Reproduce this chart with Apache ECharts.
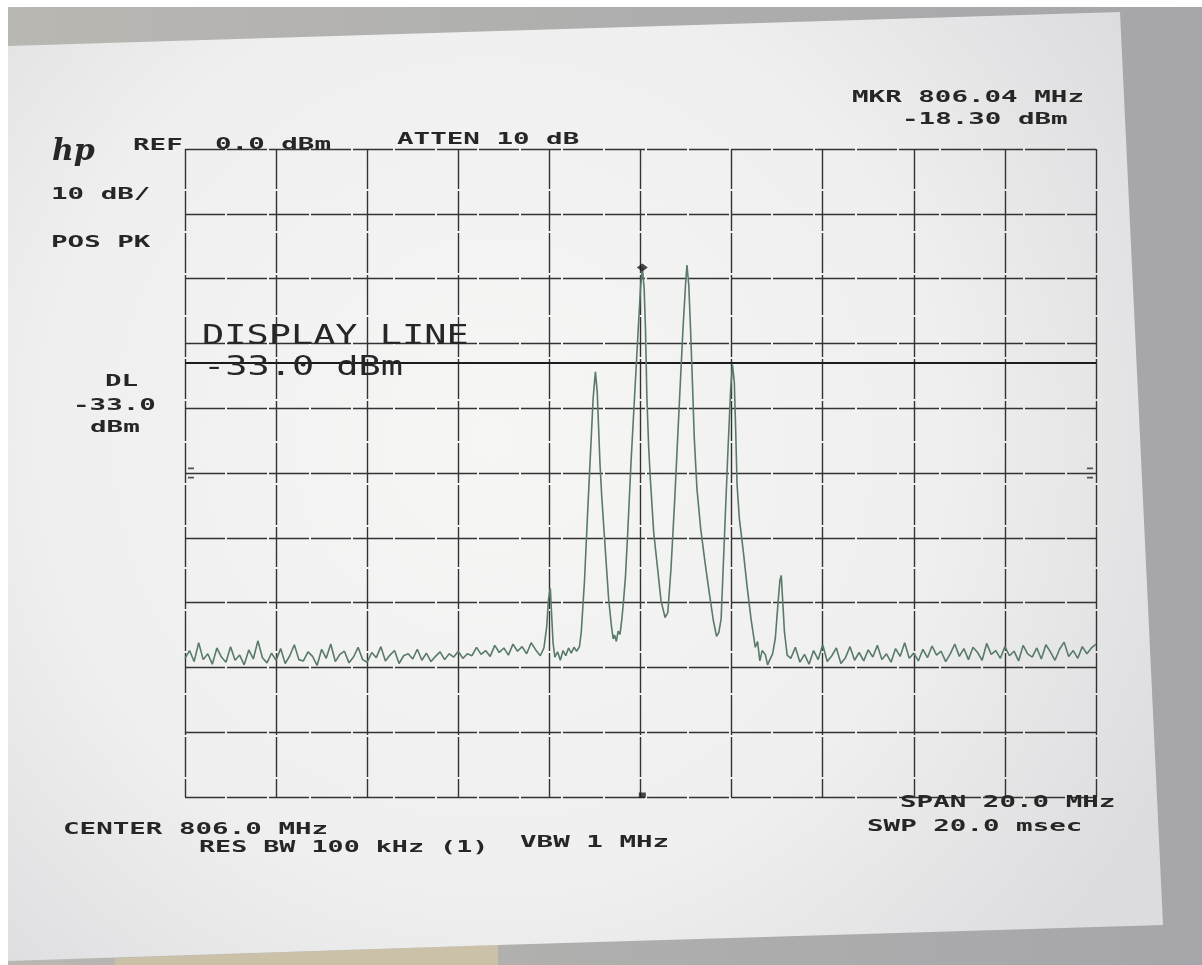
<!DOCTYPE html>
<html>
<head>
<meta charset="utf-8">
<script src="https://cdn.jsdelivr.net/npm/echarts@6/dist/echarts.min.js"></script>
<style>
html,body{margin:0;padding:0;background:#ffffff;}
#chart{width:1202px;height:965px;}
</style>
</head>
<body>
<div id="chart"></div>
<script>
// ---------------- data ----------------
// Sweep: CENTER 806.0 MHz, SPAN 20.0 MHz -> 796..816 MHz, 2 MHz/div
const freqMinMHz = 796, freqMaxMHz = 816, freqDivMHz = 2;
// REF 0.0 dBm, 10 dB/div, 10 divisions
const refDbm = 0, bottomDbm = -100, dbPerDiv = 10;
const displayLineDbm = -33.0;
const markerMHz = 806.04, markerDbm = -18.30;
const thresholdTickDbm = -50;

// noise floor left of the signals, sampled every 0.1 MHz from 796.0 MHz
const noiseLeftStartMHz = 796.0;
const noiseStepMHz = 0.1;
const noiseLeftDbm = [
  -78.6, -77.4, -79.1, -76.2, -78.8, -77.9, -79.5, -77.0, -78.4, -79.2,
  -76.8, -78.9, -78.1, -79.6, -77.3, -78.7, -75.9, -78.5, -79.3, -77.8,
  -78.9, -77.1, -79.4, -78.2, -76.5, -78.8, -79.0, -77.6, -78.3, -79.7,
  -77.2, -78.6, -76.4, -79.1, -78.0, -77.5, -79.3, -78.4, -76.9, -78.8,
  -79.2, -77.7, -78.5, -76.8, -79.0, -78.1, -77.4, -79.4, -78.2, -77.9,
  -78.7, -77.2, -78.9, -77.8, -79.1, -78.3, -77.6, -78.8, -77.9, -78.4,
  -77.5, -78.6, -77.9, -78.2, -76.9, -78.0, -77.4, -78.3, -76.6, -77.7,
  -77.0, -78.1, -76.4, -77.5, -76.8, -77.9, -76.2, -77.3, -78.2
];

// signal region [MHz, dBm]
const signalRegion = [
  [803.88,-77.0],[803.94,-73.8],[803.98,-69.5],[804.02,-67.8],[804.05,-72.0],[804.08,-76.2],
  [804.12,-78.4],[804.18,-77.6],[804.24,-78.9],[804.30,-77.4],[804.36,-78.2],[804.42,-77.0],
  [804.48,-77.8],[804.54,-76.9],[804.60,-77.5],[804.66,-76.8],
  [804.70,-74.5],[804.77,-66.7],[804.84,-56.0],[804.91,-45.8],[804.96,-38.5],[805.01,-34.4],
  [805.05,-37.5],[805.08,-43.0],[805.11,-48.5],[805.15,-53.7],[805.20,-59.0],[805.25,-64.2],
  [805.30,-69.4],[805.36,-73.5],[805.40,-75.6],[805.43,-75.0],[805.47,-76.0],[805.51,-74.4],
  [805.55,-74.9],[805.59,-72.6],[805.63,-69.5],[805.67,-66.0],[805.72,-59.1],[805.79,-48.6],
  [805.87,-38.2],[805.95,-27.8],[806.00,-21.5],[806.04,-18.3],
  [806.08,-21.5],[806.11,-27.9],[806.14,-38.3],[806.18,-46.1],[806.22,-51.4],[806.29,-59.2],
  [806.37,-64.4],[806.45,-69.7],[806.54,-72.3],[806.60,-71.5],[806.67,-64.7],[806.75,-54.3],
  [806.84,-41.1],[806.93,-28.1],[806.99,-20.8],[807.02,-17.9],
  [807.06,-21.0],[807.10,-28.0],[807.14,-36.0],[807.18,-44.5],[807.24,-52.5],[807.32,-58.5],
  [807.42,-64.0],[807.52,-69.0],[807.60,-72.8],[807.67,-75.2],[807.72,-74.6],[807.77,-72.5],
  [807.83,-62.1],[807.92,-46.5],[807.98,-37.0],[808.02,-33.3],
  [808.06,-36.0],[808.09,-43.5],[808.12,-51.8],[808.17,-57.0],[808.26,-62.3],[808.34,-67.5],
  [808.43,-72.7],[808.52,-76.9],[808.57,-76.0],[808.62,-79.0],[808.67,-77.4],[808.74,-78.0],
  [808.79,-79.6],[808.84,-78.8],[808.90,-77.9],[808.96,-75.5],[809.02,-70.0],[809.06,-66.6],
  [809.09,-65.8],[809.12,-69.5],[809.16,-74.5],[809.22,-78.1]
];

// noise floor right of the signals, every 0.1 MHz from 809.3 MHz
const noiseRightStartMHz = 809.3;
const noiseRightDbm = [
  -78.6, -76.9, -79.2, -78.0, -79.5, -77.4, -78.8,
  -76.5, -79.1, -78.2, -77.0, -79.4, -78.5, -76.8, -78.9, -77.7, -79.0,
  -77.3, -78.4, -76.6, -78.8, -77.9, -79.2, -77.1, -78.3, -76.2, -78.6,
  -77.8, -79.0, -77.2, -78.5, -76.7, -78.1, -77.5, -79.1, -77.9, -76.4,
  -78.3, -77.1, -78.8, -76.9, -77.7, -78.9, -76.3, -78.0, -77.4, -78.6,
  -76.8, -78.2, -77.5, -79.0, -76.6, -77.9, -78.4, -77.0, -78.7, -76.5,
  -77.6, -78.9, -77.2, -76.1, -78.3, -77.4, -78.6, -76.8, -77.9, -77.0, -76.4
];

// printed annotation texts
const headerTexts = ['REF', '0.0 dBm', 'ATTEN 10 dB', 'MKR 806.04 MHz', '-18.30 dBm'];
const leftTexts = ['10 dB/', 'POS PK', 'DL', '-33.0', 'dBm'];
const displayLineTexts = ['DISPLAY LINE', '-33.0 dBm'];
const footerTexts = ['CENTER 806.0 MHz', 'RES BW 100 kHz (1)', 'VBW 1 MHz', 'SPAN 20.0 MHz', 'SWP 20.0 msec'];

// ---------------- build trace ----------------
const trace = [];
noiseLeftDbm.forEach((v, i) => trace.push([+(noiseLeftStartMHz + i * noiseStepMHz).toFixed(2), v]));
signalRegion.forEach(p => trace.push(p));
noiseRightDbm.forEach((v, i) => trace.push([+(noiseRightStartMHz + i * noiseStepMHz).toFixed(2), v]));

// ---------------- styling ----------------
const ink = '#262626';
const gridInk = '#333333';
const traceInk = '#587a69';
const smallFont = 'bold 16px "DejaVu Sans Mono"';
const bigFont = '26px "DejaVu Sans Mono"';
const smallScale = 1.72, bigScale = 1.42;

function txt(text, x, cy, font, sx) {
  return {
    type: 'text', x: x, y: cy, scaleX: sx, z: 50,
    style: {
      text: text, font: font, fill: ink,
      textAlign: 'left', align: 'left',
      textVerticalAlign: 'middle', verticalAlign: 'middle'
    }
  };
}

const chart = echarts.init(document.getElementById('chart'), null, { renderer: 'canvas' });

const option = {
  backgroundColor: '#ffffff',
  animation: false,
  grid: { left: 185, top: 149, width: 911, height: 648, show: false },
  xAxis: {
    type: 'value', min: freqMinMHz, max: freqMaxMHz, interval: freqDivMHz,
    axisLine: { show: false }, axisTick: { show: false }, axisLabel: { show: false },
    splitLine: { show: true, showMinLine: true, showMaxLine: true,
      lineStyle: { color: gridInk, width: 1.4, type: [40, 2] } }
  },
  yAxis: {
    type: 'value', min: bottomDbm, max: refDbm, interval: dbPerDiv,
    axisLine: { show: false }, axisTick: { show: false }, axisLabel: { show: false },
    splitLine: { show: true, showMinLine: true, showMaxLine: true,
      lineStyle: { color: gridInk, width: 1.4, type: [40, 2] } }
  },
  series: [
    {
      type: 'line', data: trace, showSymbol: false, z: 5,
      lineStyle: { color: traceInk, width: 1.6 },
      markLine: {
        silent: true, symbol: ['none', 'none'], label: { show: false },
        lineStyle: { color: '#1c1c1c', width: 1.8, type: 'solid' },
        data: [{ yAxis: displayLineDbm }]
      }
    },
    {
      type: 'scatter', data: [[markerMHz, markerDbm]], z: 6,
      symbol: 'diamond', symbolSize: [11, 8], itemStyle: { color: '#1b1b1b' }
    },
    {
      type: 'scatter', data: [[markerMHz, bottomDbm]], z: 6,
      symbol: 'rect', symbolSize: [7, 5], symbolOffset: [0, -2], itemStyle: { color: '#1b1b1b' }
    },
    {
      type: 'scatter', data: [[freqMinMHz, thresholdTickDbm]], z: 6,
      symbol: 'path://M0,0h8v1.6h-8z M0,9h8v1.6h-8z', symbolKeepAspect: true,
      symbolSize: [8, 11], symbolOffset: [6, 0], itemStyle: { color: '#2a2a2a' }
    },
    {
      type: 'scatter', data: [[freqMaxMHz, thresholdTickDbm]], z: 6,
      symbol: 'path://M0,0h8v1.6h-8z M0,9h8v1.6h-8z', symbolKeepAspect: true,
      symbolSize: [8, 11], symbolOffset: [-6, 0], itemStyle: { color: '#2a2a2a' }
    }
  ],
  graphic: [
    // photo surroundings
    { type: 'rect', z: -30, shape: { x: 8, y: 7, width: 1194, height: 958 },
      style: { fill: { type: 'linear', x: 0, y: 0, x2: 1, y2: 0,
        colorStops: [{ offset: 0, color: '#b8b7b2' }, { offset: 1, color: '#a6a6aa' }] } } },
    { type: 'polygon', z: -29, shape: { points: [[115, 958], [498, 945], [498, 965], [115, 965]] },
      style: { fill: '#cbc1a8' } },
    // paper
    { type: 'polygon', z: -28,
      shape: { points: [[8, 46], [1120, 12], [1163, 925], [498, 945], [8, 961]] },
      style: { fill: { type: 'radial', x: 0.42, y: 0.45, r: 0.8,
        colorStops: [{ offset: 0, color: '#f6f6f5' }, { offset: 0.6, color: '#efefef' }, { offset: 1, color: '#dcdcdf' }] } } },
    // hp logo
    { type: 'text', x: 52, y: 152, z: 50,
      style: { text: 'hp', font: 'italic bold 30px "DejaVu Serif"', fill: ink,
        textAlign: 'left', align: 'left', textVerticalAlign: 'middle', verticalAlign: 'middle' } },
    txt(headerTexts[0], 133, 146, smallFont, smallScale),
    txt(headerTexts[1], 215, 145, smallFont, smallScale),
    txt(headerTexts[2], 397, 140, smallFont, smallScale),
    txt(headerTexts[3], 852, 98, smallFont, smallScale),
    txt(headerTexts[4], 902, 120, smallFont, smallScale),
    txt(leftTexts[0], 51, 195, smallFont, smallScale),
    txt(leftTexts[1], 51, 243, smallFont, smallScale),
    txt(leftTexts[2], 105, 382, smallFont, smallScale),
    txt(leftTexts[3], 73, 406, smallFont, smallScale),
    txt(leftTexts[4], 90, 428, smallFont, smallScale),
    txt(displayLineTexts[0], 202, 337, bigFont, bigScale),
    txt(displayLineTexts[1], 203, 368, bigFont, bigScale),
    txt(footerTexts[0], 63, 830, smallFont, smallScale),
    txt(footerTexts[1], 199, 848, smallFont, smallScale * 0.97),
    txt(footerTexts[2], 520, 843, smallFont, smallScale),
    txt(footerTexts[3], 900, 803, smallFont, smallScale),
    txt(footerTexts[4], 867, 827, smallFont, smallScale)
  ]
};
chart.setOption(option);
</script>
</body>
</html>
